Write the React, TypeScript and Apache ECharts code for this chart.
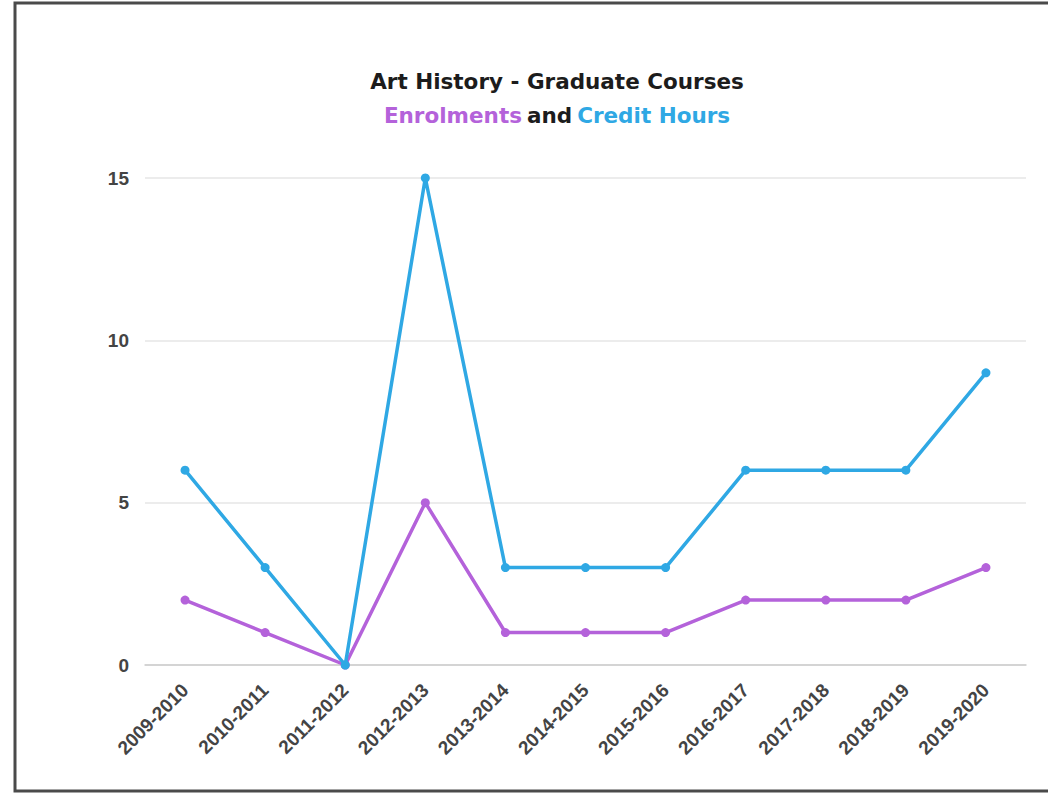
import React, { useEffect, useRef } from "react";
import * as echarts from "echarts";

const categories = [
  "2009-2010", "2010-2011", "2011-2012", "2012-2013", "2013-2014", "2014-2015",
  "2015-2016", "2016-2017", "2017-2018", "2018-2019", "2019-2020",
];
const enrolments = [2, 1, 0, 5, 1, 1, 1, 2, 2, 2, 3];
const creditHours = [6, 3, 0, 15, 3, 3, 3, 6, 6, 6, 9];
const titleLine1 = "Art History - Graduate Courses";
const purple = "#B462DA";
const blue = "#2FA8E4";

export default function App() {
  const ref = useRef<HTMLDivElement>(null);
  useEffect(() => {
    if (!ref.current) return;
    const chart = echarts.init(ref.current, null, { renderer: "svg" });
    const tf = "DejaVu Sans";
    chart.setOption({
      animation: false,
      backgroundColor: "#ffffff",
      title: {
        left: 552,
        top: 59,
        textAlign: "center",
        text: `{a|${titleLine1}}\n{p|Enrolments} {b|and} {c|Credit Hours}`,
        textStyle: {
          rich: {
            a: { fontFamily: tf, fontSize: 21.5, fontWeight: "bold", color: "#1c1c1c", lineHeight: 34 },
            p: { fontFamily: tf, fontSize: 21.5, fontWeight: "bold", color: purple, lineHeight: 34 },
            b: { fontFamily: tf, fontSize: 21.5, fontWeight: "bold", color: "#1c1c1c", lineHeight: 34 },
            c: { fontFamily: tf, fontSize: 21.5, fontWeight: "bold", color: blue, lineHeight: 34 },
          },
        },
      },
      graphic: [
        {
          type: "rect",
          shape: { x: 15, y: 3, width: 1050, height: 788 },
          style: { fill: "none", stroke: "#4a4a4a", lineWidth: 3 },
        },
      ],
      grid: { left: 145, right: 22, top: 178, bottom: 128 },
      xAxis: {
        type: "category",
        data: categories,
        boundaryGap: true,
        axisLine: { show: true, lineStyle: { color: "#cccccc", width: 1.5 } },
        axisTick: { show: false },
        axisLabel: {
          rotate: 45,
          interval: 0,
          margin: 22,
          fontFamily: "Liberation Sans",
          fontSize: 19,
          fontWeight: "bold",
          color: "#444444",
        },
      },
      yAxis: {
        type: "value",
        min: 0,
        max: 15,
        interval: 5,
        axisLine: { show: false },
        axisTick: { show: false },
        splitLine: { lineStyle: { color: "#e6e6e6", width: 1.5 } },
        axisLabel: {
          margin: 16,
          fontFamily: "Liberation Sans",
          fontSize: 19,
          fontWeight: "bold",
          color: "#444444",
        },
      },
      series: [
        {
          name: "Enrolments",
          type: "line",
          data: enrolments,
          symbol: "circle",
          symbolSize: 9,
          lineStyle: { color: purple, width: 3.5 },
          itemStyle: { color: purple },
          z: 2,
        },
        {
          name: "Credit Hours",
          type: "line",
          data: creditHours,
          symbol: "circle",
          symbolSize: 9,
          lineStyle: { color: blue, width: 3.5 },
          itemStyle: { color: blue },
          z: 3,
        },
      ],
    });
    return () => chart.dispose();
  }, []);
  return (
    <div
      ref={ref}
      style={{ position: "absolute", left: 0, top: 0, width: 1048, height: 793 }}
    />
  );
}
